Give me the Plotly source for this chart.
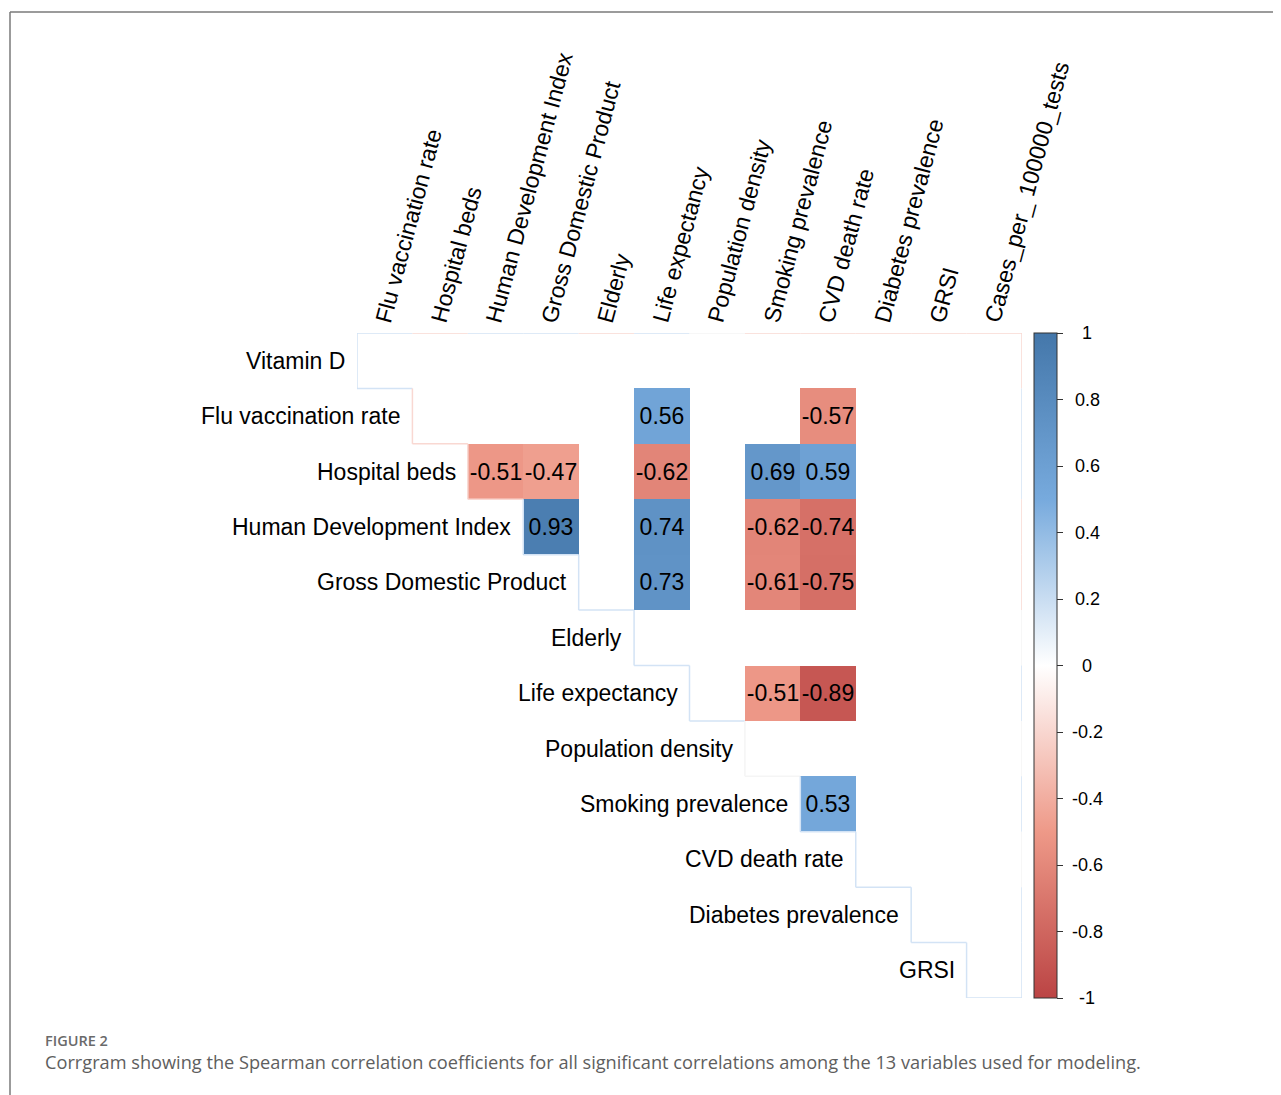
import plotly.graph_objects as go

# ---------------- data ----------------
row_labels = ["Vitamin D", "Flu vaccination rate", "Hospital beds", "Human Development Index",
              "Gross Domestic Product", "Elderly", "Life expectancy", "Population density",
              "Smoking prevalence", "CVD death rate", "Diabetes prevalence", "GRSI"]
col_labels = ["Flu vaccination rate", "Hospital beds", "Human Development Index",
              "Gross Domestic Product", "Elderly", "Life expectancy", "Population density",
              "Smoking prevalence", "CVD death rate", "Diabetes prevalence", "GRSI",
              "Cases_per_ 100000_tests"]

N = None
# significant Spearman coefficients (rows x columns), None = not significant / not shown
corr_values = [
    [N, N, N, N, N, N, N, N, N, N, N, N],                       # Vitamin D
    [N, N, N, N, N, 0.56, N, N, -0.57, N, N, N],                # Flu vaccination rate
    [N, N, -0.51, -0.47, N, -0.62, N, 0.69, 0.59, N, N, N],     # Hospital beds
    [N, N, N, 0.93, N, 0.74, N, -0.62, -0.74, N, N, N],         # Human Development Index
    [N, N, N, N, N, 0.73, N, -0.61, -0.75, N, N, N],            # Gross Domestic Product
    [N, N, N, N, N, N, N, N, N, N, N, N],                       # Elderly
    [N, N, N, N, N, N, N, -0.51, -0.89, N, N, N],               # Life expectancy
    [N, N, N, N, N, N, N, N, N, N, N, N],                       # Population density
    [N, N, N, N, N, N, N, N, 0.53, N, N, N],                    # Smoking prevalence
    [N, N, N, N, N, N, N, N, N, N, N, N],                       # CVD death rate
    [N, N, N, N, N, N, N, N, N, N, N, N],                       # Diabetes prevalence
    [N, N, N, N, N, N, N, N, N, N, N, N],                       # GRSI
]

# sign of the (non-significant) coefficients whose faint tile borders remain visible
vitd_row_sign = [1, -1, 1, 1, -1, 1, 0, -1, -1, -1, -1, -1]
cases_col_sign = [-1, 1, 1, -1, -1, 0, 1, 0, 1, 0, 1, 1]
diag_sign = [1, -1, -1, 1, 1, 1, 1, 0, 1, 1, 1, 1]

cbar_ticks = [1, 0.8, 0.6, 0.4, 0.2, 0, -0.2, -0.4, -0.6, -0.8, -1]
cbar_ticktext = ["1", "0.8", "0.6", "0.4", "0.2", "0", "-0.2", "-0.4", "-0.6", "-0.8", "-1"]

caption_head = "FIGURE 2"
caption_text = ("Corrgram showing the Spearman correlation coefficients for all significant "
                "correlations among the 13 variables used for modeling.")

# ---------------- layout constants ----------------
OFF = 8                      # page body margin of the browser
W, H = 1281 - OFF, 1095 - OFF
L, T = 357 - OFF, 333 - OFF
PW = PH = 665
R = W - L - PW
B = H - T - PH
FONT = "Liberation Sans, Arial, sans-serif"
colorscale = [[0, "#BB4444"], [0.25, "#EE9988"], [0.5, "#FFFFFF"], [0.75, "#77AADD"], [1, "#4477AA"]]
n = len(row_labels)


def px_x(px):
    return (px - OFF - L) / PW


def px_y(py):
    return (T + PH - (py - OFF)) / PH


text = [["" if v is None else f"{v:.2f}" for v in row] for row in corr_values]

fig = go.Figure()
fig.add_trace(go.Heatmap(
    z=corr_values, x=list(range(n)), y=list(range(n)),
    text=text, texttemplate="%{text}",
    textfont=dict(family=FONT, size=23, color="black"),
    colorscale=colorscale, zmin=-1, zmax=1, hoverongaps=False,
    colorbar=dict(
        x=px_x(1034), xanchor="left", xpad=0, ypad=0,
        y=0.5, yanchor="middle", len=1, lenmode="fraction",
        thickness=23, outlinewidth=1, outlinecolor="#333333",
        tickmode="array", tickvals=cbar_ticks, showticklabels=False,
        ticks="outside", ticklen=6, tickcolor="#333333", tickwidth=1,
    ),
))

shapes = []
blue_e, red_e = "#d3e3f5", "#f9d8d2"


def ecol(s):
    return blue_e if s > 0 else (red_e if s < 0 else "#f5f5f5")


# top border segments (Vitamin D row)
for j, s in enumerate(vitd_row_sign):
    shapes.append(dict(type="line", xref="x", yref="y", x0=j - 0.5, x1=j + 0.5, y0=-0.5, y1=-0.5,
                       line=dict(color=ecol(s), width=1.5)))
# right border segments (Cases column)
for i, s in enumerate(cases_col_sign):
    shapes.append(dict(type="line", xref="x", yref="y", x0=n - 0.5, x1=n - 0.5, y0=i - 0.5, y1=i + 0.5,
                       line=dict(color=ecol(s), width=1.5)))
# staircase along the diagonal
for i, s in enumerate(diag_sign):
    shapes.append(dict(type="line", xref="x", yref="y", x0=i - 0.5, x1=i - 0.5, y0=i - 0.5, y1=i + 0.5,
                       line=dict(color=ecol(s), width=1.5)))
    shapes.append(dict(type="line", xref="x", yref="y", x0=i - 0.5, x1=i + 0.5, y0=i + 0.5, y1=i + 0.5,
                       line=dict(color=ecol(s), width=1.5)))

# journal frame
shapes.append(dict(type="line", xref="paper", yref="paper", x0=px_x(10), x1=px_x(10),
                   y0=px_y(12), y1=px_y(1100), line=dict(color="#7a7a7a", width=1.5)))
shapes.append(dict(type="line", xref="paper", yref="paper", x0=px_x(10), x1=px_x(1290),
                   y0=px_y(12), y1=px_y(12), line=dict(color="#7a7a7a", width=1.5)))

annotations = []
for i, lab in enumerate(row_labels):
    annotations.append(dict(x=i - 0.5, y=i, xref="x", yref="y", text=lab, showarrow=False,
                            xanchor="right", yanchor="middle", xshift=-10,
                            font=dict(family=FONT, size=23, color="black")))
for j, lab in enumerate(col_labels):
    annotations.append(dict(x=j, y=1, xref="x", yref="paper", text=lab, showarrow=False,
                            textangle=-75, xanchor="left", yanchor="bottom", xshift=-17, yshift=5,
                            font=dict(family=FONT, size=23, color="black")))
# colorbar tick labels (centred, as in the original)
for tv, tt in zip(cbar_ticks, cbar_ticktext):
    annotations.append(dict(x=px_x(1087), y=(tv + 1) / 2, xref="paper", yref="paper", text=tt,
                            showarrow=False, xanchor="center", yanchor="middle",
                            font=dict(family=FONT, size=18, color="black")))

annotations.append(dict(x=px_x(43), y=px_y(1040), xref="paper", yref="paper", text=caption_head,
                        showarrow=False, xanchor="left", yanchor="middle",
                        font=dict(family="Open Sans, sans-serif", size=14.5, color="#6a6a6a",
                                  weight=600)))
annotations.append(dict(x=px_x(43), y=px_y(1062), xref="paper", yref="paper", text=caption_text,
                        showarrow=False, xanchor="left", yanchor="middle",
                        font=dict(family="Open Sans, sans-serif", size=18.2, color="#5e5e5e")))

fig.update_layout(
    width=W, height=H, margin=dict(l=L, r=R, t=T, b=B, pad=0),
    paper_bgcolor="white", plot_bgcolor="white",
    xaxis=dict(range=[-0.5, n - 0.5], visible=False, fixedrange=True),
    yaxis=dict(range=[n - 0.5, -0.5], visible=False, fixedrange=True),
    shapes=shapes, annotations=annotations, showlegend=False,
)

fig.write_html("out.html")
